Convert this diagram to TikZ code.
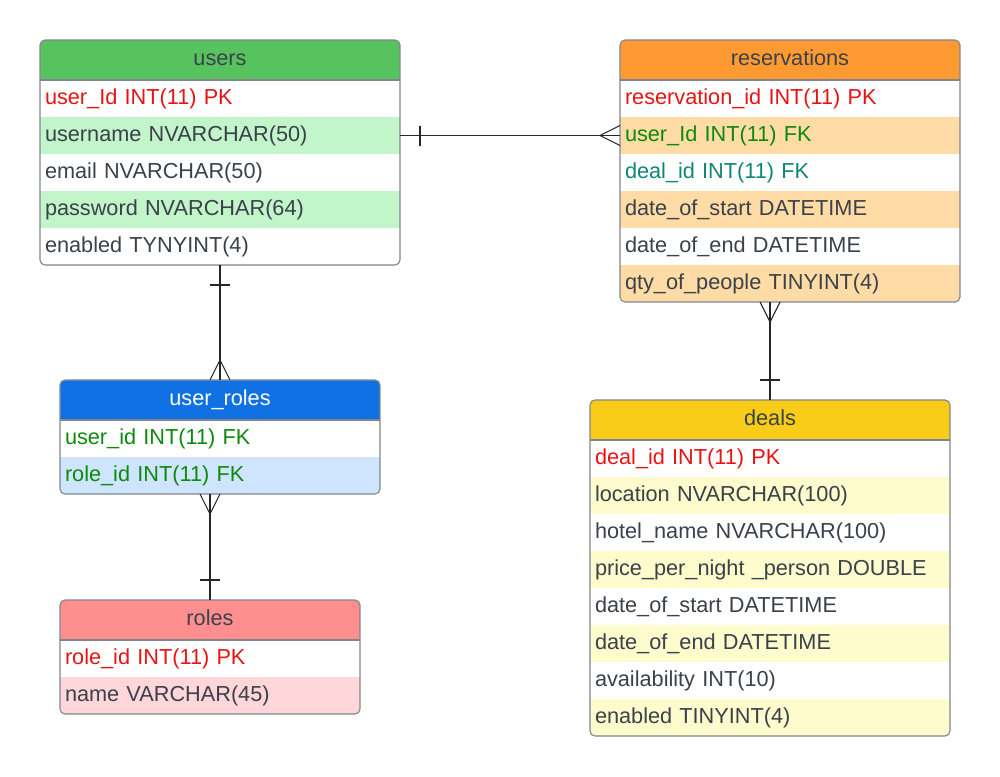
\documentclass[tikz,border=0pt]{standalone}
\usepackage{fontspec}
\setmainfont{Liberation Sans}
\usetikzlibrary{positioning}

\definecolor{ink}{HTML}{3A414A}
\definecolor{edge}{HTML}{80858C}
\definecolor{pkred}{HTML}{E81313}
\definecolor{fkgreen}{HTML}{0C8A0C}
\definecolor{fkteal}{HTML}{0E8576}
\definecolor{usershead}{HTML}{57C35F}
\definecolor{usersrow}{HTML}{C3F5CB}
\definecolor{reshead}{HTML}{FF9A33}
\definecolor{resrow}{HTML}{FFDBA6}
\definecolor{urhead}{HTML}{1071E5}
\definecolor{urrow}{HTML}{CFE4FF}
\definecolor{roleshead}{HTML}{FF8F8F}
\definecolor{rolesrow}{HTML}{FFD6D9}
\definecolor{dealshead}{HTML}{F9CD17}
\definecolor{dealsrow}{HTML}{FEFCCD}

\tikzset{
  title/.style={minimum width=#1, minimum height=40pt, inner sep=0pt, outer sep=0pt,
    text height=15.7pt, text depth=4.6pt, text=ink},
  field/.style={text width=#1, inner xsep=5pt, inner ysep=0pt, outer sep=0pt, minimum height=37pt,
    text height=15.7pt, text depth=4.6pt, align=left, text=ink},
  frame/.style={draw=edge, line width=1.1pt},
  link/.style={draw=black!85, line width=1.1pt}
}

% white corners + rounded outline + line under the title
\newcommand{\tableframe}[2]{%
  \fill[white, even odd rule] (#1.north west) rectangle (#2.south east)
    [rounded corners=5pt] (#1.north west) rectangle (#2.south east);
  \draw[frame, rounded corners=5pt] (#1.north west) rectangle (#2.south east);
  \draw[frame] (#1.south west) -- (#1.south east);}

\begin{document}
\begin{tikzpicture}[x=1pt, y=-1pt, font=\fontsize{21.7}{26}\selectfont]
  \useasboundingbox (0,0) rectangle (1000,776);

  % users
  \node[title=360pt, fill=usershead] (users) at (220,60) {users};
  \node[field=350pt, below=0pt of users, text=pkred] (users-1) {user\_Id INT(11) PK};
  \node[field=350pt, below=0pt of users-1, fill=usersrow] (users-2) {username NVARCHAR(50)};
  \node[field=350pt, below=0pt of users-2] (users-3) {email NVARCHAR(50)};
  \node[field=350pt, below=0pt of users-3, fill=usersrow] (users-4) {password NVARCHAR(64)};
  \node[field=350pt, below=0pt of users-4] (users-5) {enabled TYNYINT(4)};
  \tableframe{users}{users-5}

  % reservations
  \node[title=340pt, fill=reshead] (res) at (790,60) {reservations};
  \node[field=330pt, below=0pt of res, text=pkred] (res-1) {reservation\_id INT(11) PK};
  \node[field=330pt, below=0pt of res-1, fill=resrow, text=fkgreen] (res-2) {user\_Id INT(11) FK};
  \node[field=330pt, below=0pt of res-2, text=fkteal] (res-3) {deal\_id INT(11) FK};
  \node[field=330pt, below=0pt of res-3, fill=resrow] (res-4) {date\_of\_start DATETIME};
  \node[field=330pt, below=0pt of res-4] (res-5) {date\_of\_end DATETIME};
  \node[field=330pt, below=0pt of res-5, fill=resrow] (res-6) {qty\_of\_people TINYINT(4)};
  \tableframe{res}{res-6}

  % user_roles
  \node[title=320pt, fill=urhead, text=white] (ur) at (220,400) {user\_roles};
  \node[field=310pt, below=0pt of ur, text=fkgreen] (ur-1) {user\_id INT(11) FK};
  \node[field=310pt, below=0pt of ur-1, fill=urrow, text=fkgreen] (ur-2) {role\_id INT(11) FK};
  \tableframe{ur}{ur-2}

  % roles
  \node[title=300pt, fill=roleshead] (roles) at (210,620) {roles};
  \node[field=290pt, below=0pt of roles, text=pkred] (roles-1) {role\_id INT(11) PK};
  \node[field=290pt, below=0pt of roles-1, fill=rolesrow] (roles-2) {name VARCHAR(45)};
  \tableframe{roles}{roles-2}

  % deals
  \node[title=360pt, fill=dealshead] (deals) at (770,420) {deals};
  \node[field=350pt, below=0pt of deals, text=pkred] (deals-1) {deal\_id INT(11) PK};
  \node[field=350pt, below=0pt of deals-1, fill=dealsrow] (deals-2) {location NVARCHAR(100)};
  \node[field=350pt, below=0pt of deals-2] (deals-3) {hotel\_name NVARCHAR(100)};
  \node[field=350pt, below=0pt of deals-3, fill=dealsrow] (deals-4) {price\_per\_night \_person DOUBLE};
  \node[field=350pt, below=0pt of deals-4] (deals-5) {date\_of\_start DATETIME};
  \node[field=350pt, below=0pt of deals-5, fill=dealsrow] (deals-6) {date\_of\_end DATETIME};
  \node[field=350pt, below=0pt of deals-6] (deals-7) {availability INT(10)};
  \node[field=350pt, below=0pt of deals-7, fill=dealsrow] (deals-8) {enabled TINYINT(4)};
  \tableframe{deals}{deals-8}

  % users -- reservations
  \draw[link] (users-2.east) -- (res-2.west);
  \draw[link] ([xshift=20pt]users-2.east) +(0,-10) -- +(0,10);
  \draw[link] ([yshift=10pt]res-2.west) -- ([xshift=-20pt]res-2.west) -- ([yshift=-10pt]res-2.west);

  % users -- user_roles
  \draw[link] (users-5.south) -- (ur.north);
  \draw[link] ([yshift=-20pt]users-5.south) +(-10,0) -- +(10,0);
  \draw[link] ([xshift=-10pt]ur.north) -- ([yshift=20pt]ur.north) -- ([xshift=10pt]ur.north);

  % user_roles -- roles
  \draw[link] ([xshift=-10pt]ur-2.south) -- (roles.north);
  \draw[link] ([yshift=20pt]roles.north) +(-10,0) -- +(10,0);
  \draw[link] ([xshift=-20pt]ur-2.south) -- ([xshift=-10pt,yshift=-20pt]ur-2.south) -- (ur-2.south);

  % reservations -- deals
  \draw[link] ([xshift=-20pt]res-6.south) -- (deals.north);
  \draw[link] ([yshift=20pt]deals.north) +(-10,0) -- +(10,0);
  \draw[link] ([xshift=-30pt]res-6.south) -- ([xshift=-20pt,yshift=-20pt]res-6.south) -- ([xshift=-10pt]res-6.south);
\end{tikzpicture}
\end{document}
